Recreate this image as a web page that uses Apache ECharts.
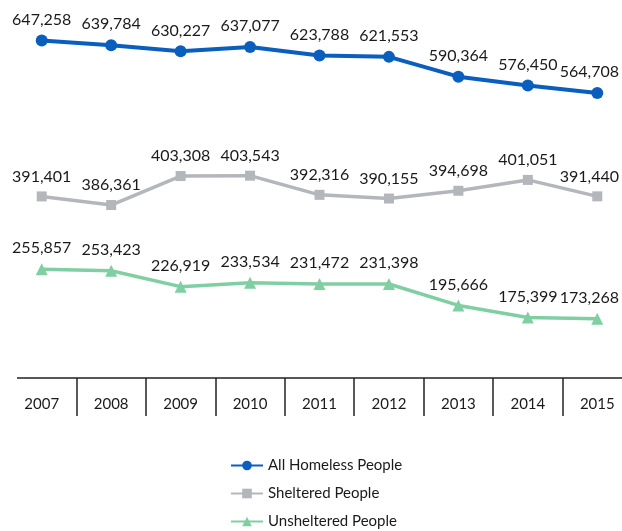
<!DOCTYPE html>
<html><head><meta charset="utf-8">
<script src="https://cdn.jsdelivr.net/npm/echarts@6/dist/echarts.min.js"></script>
<style>html,body{margin:0;padding:0;background:#fff}#c{width:622px;height:531px}</style>
</head><body><div id="c"></div>
<script>
var years = ['2007','2008','2009','2010','2011','2012','2013','2014','2015'];
var allHomeless = [647258,639784,630227,637077,623788,621553,590364,576450,564708];
var sheltered = [391401,386361,403308,403543,392316,390155,394698,401051,391440];
var unsheltered = [255857,253423,226919,233534,231472,231398,195666,175399,173268];

var FONT = 'Lato, "Noto Sans", sans-serif';
var fmt = function(p){ return p.value.toLocaleString('en-US'); };
function lbl(){ return {show:true, position:'top', distance:7, formatter:fmt, fontSize:16, color:'#1a1a1a', fontFamily:FONT}; }
function keepInside(p){
  var r = p.labelRect;
  var over = r.x + r.width - 619;
  return over > 0 ? {dx: -over} : {};
}

var chart = echarts.init(document.getElementById('c'));
chart.setOption({
  animation:false,
  grid:{left:7, right:-10, top:0, bottom:153, containLabel:false, outerBoundsMode:'none'},
  xAxis:{type:'category', data:years, boundaryGap:true,
    axisLine:{lineStyle:{color:'#222', width:1.5}},
    axisTick:{show:true, interval:0, length:38, lineStyle:{color:'#222', width:1.5}},
    axisLabel:{fontSize:15, color:'#1a1a1a', margin:19, fontFamily:FONT}},
  yAxis:[
    {type:'value', min:115838, max:711114, show:false},
    {type:'value', min:285211, max:506264, show:false},
    {type:'value', min:74733, max:704418, show:false}
  ],
  graphic:[{type:'rect', left:0, top:370, shape:{width:17, height:50}, style:{fill:'#fff'}, z:100}],
  legend:{orient:'vertical', left:225, top:453, height:120, itemWidth:32, itemHeight:12, itemGap:13,
    textStyle:{fontSize:15, color:'#1a1a1a', fontFamily:FONT}},
  series:[
    {name:'All Homeless People', type:'line', yAxisIndex:0, data:allHomeless,
      symbol:'circle', symbolSize:12, lineStyle:{width:4, color:'#0a5ebe'}, itemStyle:{color:'#0a5ebe'}, label:lbl(), labelLayout:keepInside},
    {name:'Sheltered People', type:'line', yAxisIndex:1, data:sheltered,
      symbol:'rect', symbolSize:10, lineStyle:{width:3.5, color:'#b3b6bb'}, itemStyle:{color:'#b3b6bb'}, label:lbl(), labelLayout:keepInside},
    {name:'Unsheltered People', type:'line', yAxisIndex:2, data:unsheltered,
      symbol:'triangle', symbolSize:12, lineStyle:{width:3.5, color:'#80cfa2'}, itemStyle:{color:'#80cfa2'}, label:lbl(), labelLayout:keepInside}
  ]
});
</script></body></html>
